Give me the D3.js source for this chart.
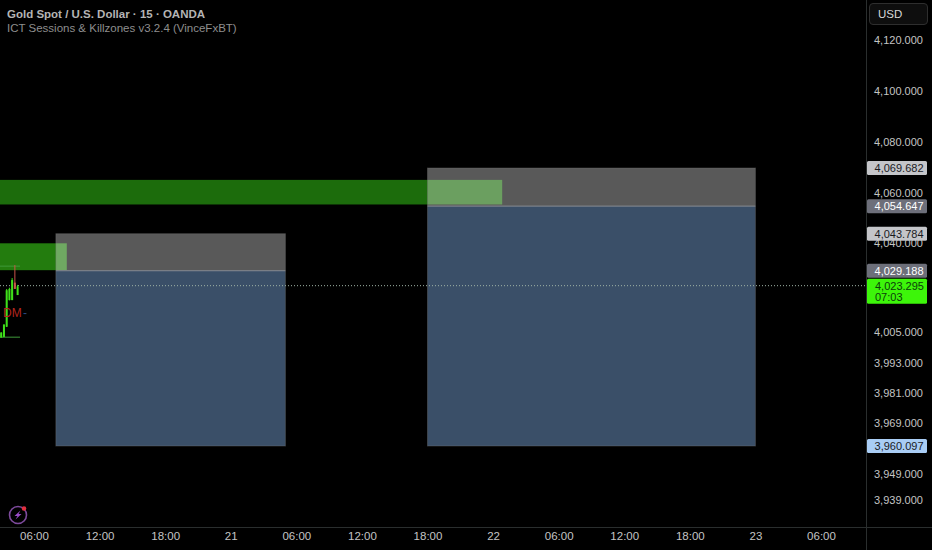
<!DOCTYPE html>
<html><head><meta charset="utf-8">
<script src="https://cdn.jsdelivr.net/npm/d3@7/dist/d3.min.js"></script>
<style>html,body{margin:0;background:#000;overflow:hidden}svg{display:block}text{font-family:"Liberation Sans",Arial,sans-serif}</style>
</head><body><svg id="c" width="932" height="550"></svg>
<script>
const priceTicks=[4120,4100,4080,4060,4040,4005,3993,3981,3969,3949,3939];
const timeTicks=["2025-10-20T06:00","2025-10-20T12:00","2025-10-20T18:00","2025-10-21T00:00","2025-10-21T06:00","2025-10-21T12:00","2025-10-21T18:00","2025-10-22T00:00","2025-10-22T06:00","2025-10-22T12:00","2025-10-22T18:00","2025-10-23T00:00","2025-10-23T06:00"];
const timeLabels=["06:00","12:00","18:00","21","06:00","12:00","18:00","22","06:00","12:00","18:00","23","06:00"];
const boxStarts=["2025-10-20T08:00","2025-10-21T18:00"];
const boxEnds=["2025-10-21T05:00","2025-10-23T00:00"];
const boxTops=[4043.784,4069.682];
const boxMids=[4029.188,4054.647];
const boxBottoms=[3960.097,3960.097];
const bandEnds=["2025-10-20T09:00","2025-10-22T00:50"];
const bandTops=[4040,4065];
const bandBottoms=[4029.4,4055.3];
const bandColors=["#237c0e","#1c6c0c"];
const candleTimes=["2025-10-20T03:00","2025-10-20T03:15","2025-10-20T03:30","2025-10-20T03:45","2025-10-20T04:00","2025-10-20T04:15","2025-10-20T04:30"];
const candleOpen=[4003.2,4003.5,4007.5,4018,4018,4024.5,4020];
const candleClose=[4004.8,4008,4021.5,4022,4025.5,4022.4,4023];
const candleHigh=[4005,4008,4022,4022.5,4026.3,4031.4,4023.6];
const candleLow=[4003,4003,4007,4017.5,4017.6,4022,4019.6];
const levelValues=[4031,4003];
const lastPrice=4023.295;
const priceTags=[{v:4069.682,t:"4,069.682",bg:"#c4c5c9",fg:"#1a1a1f"},{v:4054.647,t:"4,054.647",bg:"#6d6f7a",fg:"#fff"},{v:4043.784,t:"4,043.784",bg:"#c4c5c9",fg:"#1a1a1f"},{v:4029.188,t:"4,029.188",bg:"#6d6f7a",fg:"#fff"},{v:3960.097,t:"3,960.097",bg:"#a9cdf5",fg:"#1a1a1f"}];

const P=s=>new Date(s);
const x=d3.scaleTime().domain([P(timeTicks[0]),P(timeTicks[12])]).range([34,821]);
const y=d3.scaleLinear().domain([3960.097,4069.682]).range([446,168]);
const svg=d3.select("#c");
const W=866,H=527;
const plot=svg.append("g");
svg.append("defs").append("clipPath").attr("id","pc").append("rect").attr("width",W).attr("height",H);
plot.attr("clip-path","url(#pc)");
// bands under the boxes, so the translucent grey lightens them
bandEnds.forEach((e,i)=>{
 plot.append("rect").attr("x",0).attr("width",x(P(e))).attr("y",y(bandTops[i])).attr("height",y(bandBottoms[i])-y(bandTops[i])).attr("fill",bandColors[i]);
});
boxStarts.forEach((s,i)=>{
 const x0=x(P(s)),x1=x(P(boxEnds[i]));
 plot.append("rect").attr("x",x0).attr("width",x1-x0).attr("y",y(boxTops[i])).attr("height",y(boxMids[i])-y(boxTops[i])).attr("fill","#fff").attr("fill-opacity",.35);
 plot.append("rect").attr("x",x0).attr("width",x1-x0).attr("y",y(boxMids[i])).attr("height",y(boxBottoms[i])-y(boxMids[i])).attr("fill","#3a4f68");
 plot.append("line").attr("x1",x0).attr("x2",x1).attr("y1",y(boxMids[i])).attr("y2",y(boxMids[i])).attr("stroke","#8a8f98");
 plot.append("rect").attr("x",x0).attr("width",x1-x0).attr("y",y(boxTops[i])).attr("height",y(boxBottoms[i])-y(boxTops[i])).attr("fill","none").attr("stroke","#777").attr("stroke-opacity",.35);
});
levelValues.forEach(v=>{
 plot.append("line").attr("x1",0).attr("x2",20).attr("y1",y(v)).attr("y2",y(v)).attr("stroke","#3f9a3a");
});
plot.append("line").attr("x1",0).attr("x2",W).attr("y1",y(lastPrice)).attr("y2",y(lastPrice)).attr("stroke","#9fb3a5").attr("stroke-dasharray","1 2");
candleTimes.forEach((t,i)=>{
 const cx=x(P(t)), up=candleClose[i]>=candleOpen[i], col=up?"#3fe01a":"#c9544a";
 plot.append("line").attr("x1",cx).attr("x2",cx).attr("y1",y(candleHigh[i])).attr("y2",y(candleLow[i])).attr("stroke",col);
 plot.append("rect").attr("x",cx-1).attr("width",2).attr("y",y(Math.max(candleOpen[i],candleClose[i]))).attr("height",Math.abs(y(candleOpen[i])-y(candleClose[i]))+1).attr("fill",col);
});
plot.append("text").attr("x",3).attr("y",317).attr("fill","#b3261e").attr("font-size",12).text("DM");
plot.append("text").attr("x",23).attr("y",317).attr("fill","#2a4a80").attr("font-size",12).text("-");
svg.append("line").attr("x1",866.5).attr("x2",866.5).attr("y1",0).attr("y2",550).attr("stroke","#2a2e2e");
svg.append("line").attr("x1",0).attr("x2",932).attr("y1",527.5).attr("y2",527.5).attr("stroke","#2a2e2e");
const yAxis=d3.axisRight(y).tickValues(priceTicks).tickSize(0).tickPadding(0).tickFormat(d3.format(",.3f"));
const yg=svg.append("g").attr("transform","translate(874,0)").call(yAxis);
yg.select(".domain").remove();
yg.selectAll("text").attr("fill","#c4c4c4").attr("font-size",11).style("font-family","'Liberation Sans',Arial,sans-serif");
const xAxis=d3.axisBottom(x).tickValues(timeTicks.map(P)).tickSize(0).tickPadding(0).tickFormat((d,i)=>timeLabels[i]);
const xg=svg.append("g").attr("transform","translate(0,532)").call(xAxis);
xg.select(".domain").remove();
xg.selectAll("text").attr("fill","#c4c4c4").attr("font-size",11.5).style("font-family","'Liberation Sans',Arial,sans-serif");
priceTags.forEach(p=>{
 const yy=y(p.v);
 svg.append("rect").attr("x",867).attr("y",yy-7).attr("width",60).attr("height",14).attr("rx",1.5).attr("fill",p.bg);
 svg.append("text").attr("x",923.5).attr("y",yy+4).attr("text-anchor","end").attr("font-size",11).attr("fill",p.fg).text(p.t);
});
const ly=y(lastPrice);
svg.append("rect").attr("x",867).attr("y",ly-7).attr("width",60).attr("height",25).attr("rx",1.5).attr("fill","#3df50a");
svg.append("text").attr("x",875).attr("y",ly+4).attr("font-size",11).attr("fill","#0c3d0c").text("4,023.295");
svg.append("text").attr("x",875).attr("y",ly+15).attr("font-size",11).attr("fill","#0c3d0c").text("07:03");
svg.append("rect").attr("x",869.5).attr("y",3.5).attr("width",58).attr("height",21).attr("rx",3.5).attr("fill","#0e0e0e").attr("stroke","#2e2e2e");
svg.append("text").attr("x",878).attr("y",18).attr("font-size",11.5).attr("font-weight",500).attr("fill","#d8d8d8").text("USD");
svg.append("text").attr("x",7).attr("y",18).attr("font-size",11.5).attr("font-weight",700).attr("fill","#b4b4b4").text("Gold Spot / U.S. Dollar · 15 · OANDA");
svg.append("text").attr("x",7).attr("y",32).attr("font-size",11.5).attr("fill","#8e8e8e").text("ICT Sessions & Killzones v3.2.4 (VinceFxBT)");
const lg=svg.append("g").attr("transform","translate(18,515)");
lg.append("circle").attr("r",8.5).attr("fill","none").attr("stroke","#7d4a9c").attr("stroke-width",1.6);
lg.append("path").attr("d","M2.5,-4.5 L-3.5,1 L-0.5,1 L-2.5,4.5 L3.5,-1 L0.5,-1 Z").attr("fill","#9a4cc8");
lg.append("circle").attr("cx",6).attr("cy",-6.5).attr("r",2.3).attr("fill","#e03040");
</script></body></html>
